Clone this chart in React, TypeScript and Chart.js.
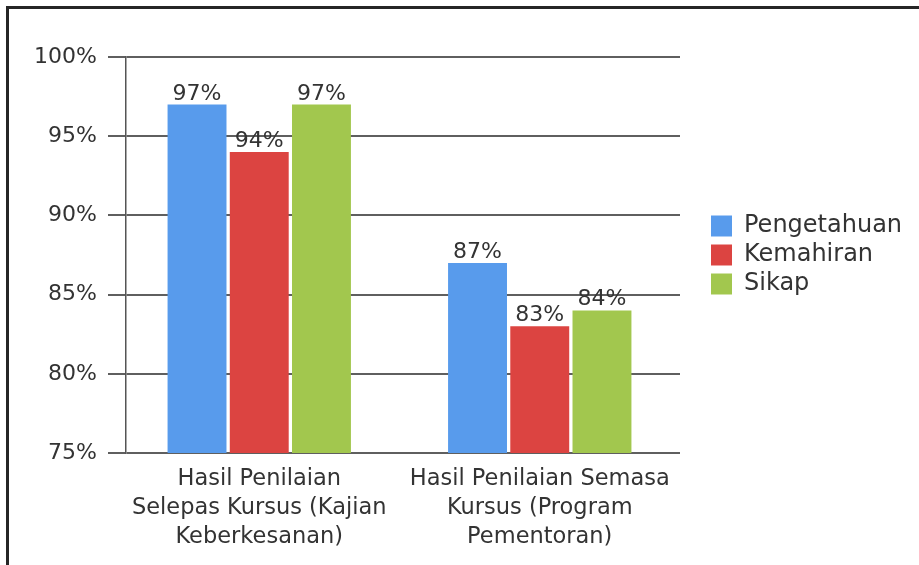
import React, { useEffect, useRef } from "react";
import { Chart, registerables } from "chart.js";

Chart.register(...registerables);

const categories: string[][] = [
  ["Hasil Penilaian", "Selepas Kursus (Kajian", "Keberkesanan)"],
  ["Hasil Penilaian Semasa", "Kursus (Program", "Pementoran)"],
];
const seriesNames = ["Pengetahuan", "Kemahiran", "Sikap"];
const pengetahuan = [97, 87];
const kemahiran = [94, 83];
const sikap = [97, 84];
const seriesColors = ["#589BEC", "#DC4441", "#A2C74E"];
const yMin = 75;
const yMax = 100;
const yStep = 5;

const FONT = "'DejaVu Sans', sans-serif";
const TEXT = "#333333";

const dataLabels = {
  id: "dataLabels",
  afterDatasetsDraw(chart: any) {
    const ctx = chart.ctx;
    ctx.save();
    ctx.font = `22px ${FONT}`;
    ctx.fillStyle = TEXT;
    ctx.textAlign = "center";
    ctx.textBaseline = "alphabetic";
    chart.data.datasets.forEach((ds: any, i: number) => {
      const meta = chart.getDatasetMeta(i);
      meta.data.forEach((el: any, j: number) => {
        ctx.fillText(`${ds.data[j]}%`, el.x, el.y - 5);
      });
    });
    ctx.restore();
  },
};

const layoutTweaks = {
  id: "layoutTweaks",
  beforeLayout(chart: any) {
    const lg = chart.legend;
    if (lg && !lg.__wrapped) {
      const orig = lg.fit;
      lg.fit = function () {
        orig.call(this);
        this.width = 213;
      };
      lg.__wrapped = true;
    }
  },
  afterLayout(chart: any) {
    const area = chart.chartArea;
    const lg = chart.legend;
    if (lg) {
      lg.top = area.top;
      lg.bottom = area.bottom;
      lg.height = area.bottom - area.top;
    }
    const x = chart.scales.x;
    if (x) {
      x.left = area.left - 7;
      x.configure();
    }
  },
};

export default function App() {
  const ref = useRef<HTMLCanvasElement>(null);
  useEffect(() => {
    if (!ref.current) return;
    const chart = new Chart(ref.current, {
      type: "bar",
      data: {
        labels: categories,
        datasets: [pengetahuan, kemahiran, sikap].map((d, i) => ({
          label: seriesNames[i],
          data: d,
          backgroundColor: seriesColors[i],
          borderWidth: 0,
          categoryPercentage: 0.6655,
          barPercentage: 0.947,
        })),
      },
      options: {
        animation: false,
        responsive: false,
        devicePixelRatio: 1,
        layout: { padding: { top: 57, left: 0, right: 0, bottom: 0 } },
        plugins: {
          tooltip: { enabled: false },
          legend: {
            position: "right",
            align: "center",
            labels: {
              boxWidth: 21,
              boxHeight: 21,
              padding: 5,
              color: TEXT,
              font: { family: FONT, size: 24 },
            },
          },
        },
        scales: {
          x: {
            type: "category",
            offset: true,
            grid: { display: false, drawTicks: false },
            border: { display: false },
            ticks: {
              color: TEXT,
              padding: 12,
              maxRotation: 0,
              autoSkip: false,
              font: { family: FONT, size: 22.5, lineHeight: 29 / 22.5 },
            },
            afterFit: (s: any) => {
              s.height = 112;
            },
          },
          y: {
            min: yMin,
            max: yMax,
            ticks: {
              stepSize: yStep,
              color: TEXT,
              padding: 11,
              font: { family: FONT, size: 22 },
              callback: (v: any) => `${v}%`,
            },
            grid: {
              color: "#5f5f5f",
              lineWidth: 2,
              drawTicks: true,
              tickLength: 18,
            },
            border: { display: true, color: "#555555", width: 1.5 },
            afterFit: (s: any) => {
              s.width = 126;
            },
          },
          spacer: {
            type: "linear",
            position: "right",
            display: true,
            grid: { display: false, drawTicks: false },
            border: { display: false },
            ticks: { display: false },
            afterFit: (s: any) => {
              s.width = 26;
            },
          },
        },
      },
      plugins: [dataLabels, layoutTweaks],
    } as any);
    return () => chart.destroy();
  }, []);

  return (
    <div
      style={{
        position: "fixed",
        left: 0,
        top: 0,
        width: 919,
        height: 565,
        overflow: "hidden",
        background: "#ffffff",
      }}
    >
      <div
        style={{
          position: "absolute",
          left: 6,
          top: 6,
          width: 2000,
          height: 2000,
          border: "3px solid #262626",
        }}
      />
      <canvas
        ref={ref}
        width={919}
        height={565}
        style={{ position: "absolute", left: 0, top: 0, width: 919, height: 565 }}
      />
    </div>
  );
}
